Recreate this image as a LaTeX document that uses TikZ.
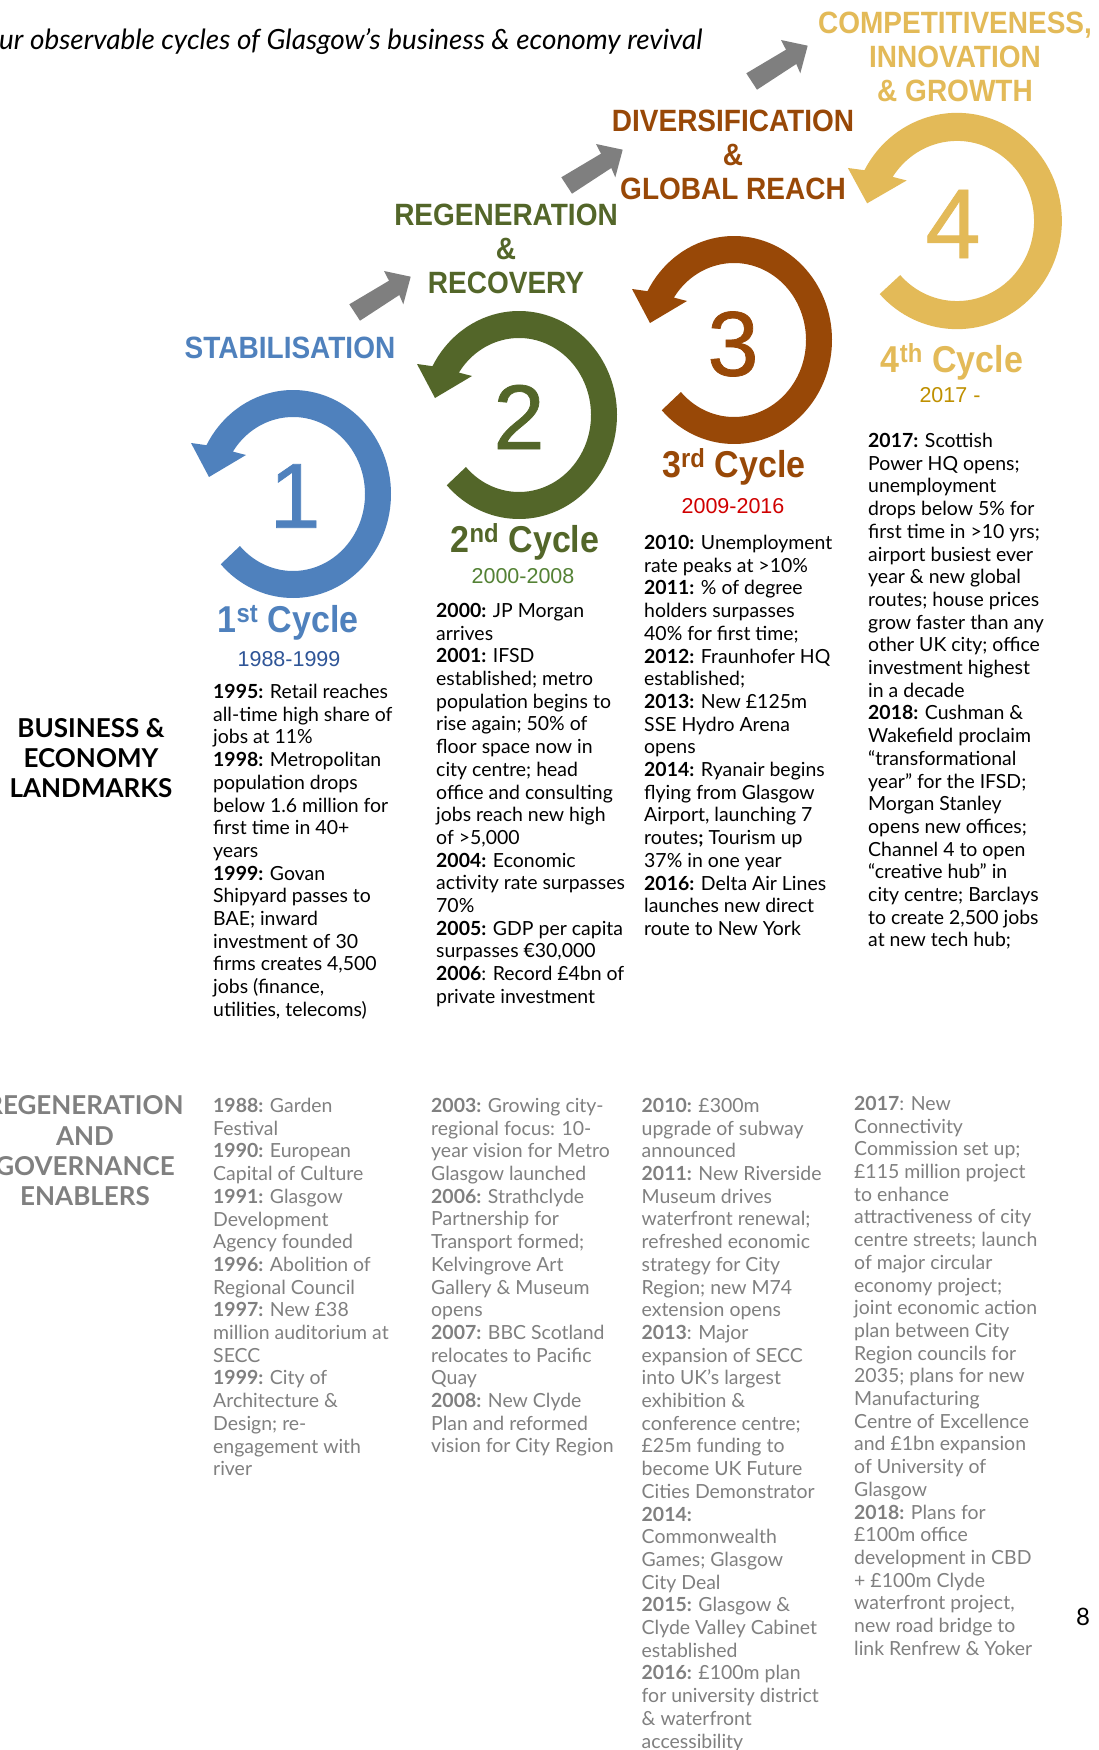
\documentclass[tikz,border=0pt]{standalone}
\usepackage{fontspec}
\setmainfont{Lato}
\newfontfamily\helv{Liberation Sans}
\newfontfamily\helvnum[FakeBold=0.8]{Liberation Sans}
\definecolor{cblue}{HTML}{4F81BD}
\definecolor{cgreen}{HTML}{536629}
\definecolor{cbrown}{HTML}{984807}
\definecolor{cgold}{HTML}{E3BA58}
\definecolor{ygreen}{HTML}{548235}
\definecolor{yblue}{HTML}{2F5597}
\definecolor{yred}{HTML}{D00000}
\definecolor{ygold}{HTML}{BF9000}
\definecolor{arrowgrey}{HTML}{7F7F7F}
\definecolor{bodygrey}{HTML}{808080}
\tikzset{
  heading/.style={font=\helv\bfseries\fontsize{28}{31}\selectfont,align=center,inner sep=0,yscale=1.1,transform shape},
  cyclelabel/.style={font=\helv\bfseries\fontsize{34}{40}\selectfont,inner sep=0,yscale=1.1,transform shape},
  yearlabel/.style={font=\helv\fontsize{21.5}{26}\selectfont,inner sep=0},
  numeral/.style={font=\helvnum\fontsize{92}{100}\selectfont,inner sep=0},
  bodytext/.style={font=\fontsize{19.45}{22.7}\selectfont,align=left,anchor=north west,inner sep=0,text=black},
  greytext/.style={bodytext,text=bodygrey},
  sidelabel/.style={font=\bfseries\fontsize{26}{30.3}\selectfont,align=center,inner sep=0},
}
\newcommand{\yr}[1]{\textbf{#1}}
\newcommand{\cyclering}[5]{%
  \begin{scope}[shift={(#1,-#2)},xscale=#3,yscale=#4]
    \fill[#5] (-137.5:98 and 104) arc[start angle=-137.5,end angle=152,x radius=98,y radius=104]
      -- (-102,51) -- (-84,17) -- (-47,39) -- (146.6:72 and 77)
      arc[start angle=146.6,end angle=-137.5,x radius=72,y radius=77] -- cycle;
  \end{scope}}
\newcommand{\stepblock}[2]{%
  \fill[arrowgrey,shift={(#1,#2)}] (349.3,-304.3) -- (389,-280.7) -- (384,-271) -- (410.7,-276.7)
    -- (403.3,-304.3) -- (399.3,-295) -- (360,-320.7) -- cycle;}
\begin{document}
\begin{tikzpicture}[x=1pt,y=1pt]
\useasboundingbox (0,0) rectangle (1099,-1750);
\clip (0,0) rectangle (1099,-1750);
\fill[white] (0,0) rectangle (1099,-1750);

\node[font=\itshape\fontsize{27.9}{32}\selectfont,anchor=west,inner sep=0] (title) at (-1,-42)
  {ur observable cycles of Glasgow’s business \& economy revival};

\cyclering{293}{494}{1}{1}{cblue}
\cyclering{519}{415}{1}{1}{cgreen}
\cyclering{734}{340}{1}{1}{cbrown}
\cyclering{957}{221}{1.07}{1.04}{cgold}

\stepblock{0}{0}
\stepblock{212}{127}
\stepblock{397}{231}

\node[numeral,text=cblue] (n1) at (295,-496) {1};
\node[numeral,text=cgreen] (n2) at (519,-417) {2};
\node[numeral,text=cbrown] (n3) at (733,-344) {3};
\node[numeral,text=cgold,font=\helvnum\fontsize{99}{100}\selectfont] (n4) at (953,-224) {4};

\node[heading,text=cblue] (h1) at (290,-348) {STABILISATION};
\node[heading,text=cgreen] (h2) at (506,-249) {REGENERATION\\\&\\RECOVERY};
\node[heading,text=cbrown] (h3) at (733,-155) {DIVERSIFICATION\\\&\\GLOBAL REACH};
\node[heading,text=cgold] (h4) at (955,-57) {COMPETITIVENESS,\\INNOVATION\\\& GROWTH};

\node[cyclelabel,text=cblue] (c1) at (288,-622.5) {1\textsuperscript{st} Cycle};
\node[cyclelabel,text=cgreen] (c2) at (525,-541.5) {2\textsuperscript{nd} Cycle};
\node[cyclelabel,text=cbrown] (c3) at (734,-467) {3\textsuperscript{rd} Cycle};
\node[cyclelabel,text=cgold] (c4) at (952,-361.5) {4\textsuperscript{th} Cycle};

\node[yearlabel,text=yblue] (y1) at (289,-659) {1988-1999};
\node[yearlabel,text=ygreen] (y2) at (523,-576) {2000-2008};
\node[yearlabel,text=yred] (y3) at (733,-506) {2009-2016};
\node[yearlabel,text=ygold] (y4) at (950,-395) {2017 -};

\node[sidelabel] (s1) at (91,-758) {BUSINESS \&\\ECONOMY\\LANDMARKS};
\node[sidelabel,text=bodygrey] (s2) at (85,-1151) {REGENERATION\\AND\\GOVERNANCE\\ENABLERS};

\node[bodytext] (b1) at (213,-684) {\yr{1995:} Retail reaches\\all-time high share of\\jobs at 11\%\\\yr{1998:} Metropolitan\\population drops\\below 1.6 million for\\first time in 40+\\years\\\yr{1999:} Govan\\Shipyard passes to\\BAE; inward\\investment of 30\\firms creates 4,500\\jobs (finance,\\utilities, telecoms)};
\node[bodytext] (b2) at (436,-603) {\yr{2000:} JP Morgan\\arrives\\\yr{2001:} IFSD\\established; metro\\population begins to\\rise again; 50\% of\\floor space now in\\city centre; head\\office and consulting\\jobs reach new high\\of >5,000\\\yr{2004:} Economic\\activity rate surpasses\\70\%\\\yr{2005:} GDP per capita\\surpasses €30,000\\\yr{2006}: Record £4bn of\\private investment};
\node[bodytext] (b3) at (644,-535) {\yr{2010:} Unemployment\\rate peaks at >10\%\\\yr{2011:} \% of degree\\holders surpasses\\40\% for first time;\\\yr{2012:} Fraunhofer HQ\\established;\\\yr{2013:} New £125m\\SSE Hydro Arena\\opens\\\yr{2014:} Ryanair begins\\flying from Glasgow\\Airport, launching 7\\routes\textbf{;} Tourism up\\37\% in one year\\\yr{2016:} Delta Air Lines\\launches new direct\\route to New York};
\node[bodytext] (b4) at (868,-433) {\yr{2017:} Scottish\\Power HQ opens;\\unemployment\\drops below 5\% for\\first time in >10 yrs;\\airport busiest ever\\year \& new global\\routes; house prices\\grow faster than any\\other UK city; office\\investment highest\\in a decade\\\yr{2018:} Cushman \&\\Wakefield proclaim\\“transformational\\year” for the IFSD;\\Morgan Stanley\\opens new offices;\\Channel 4 to open\\“creative hub” in\\city centre; Barclays\\to create 2,500 jobs\\at new tech hub;};

\node[greytext] (g1) at (213,-1098) {\yr{1988:} Garden\\Festival\\\yr{1990:} European\\Capital of Culture\\\yr{1991:} Glasgow\\Development\\Agency founded\\\yr{1996:} Abolition of\\Regional Council\\\yr{1997:} New £38\\million auditorium at\\SECC\\\yr{1999:} City of\\Architecture \&\\Design; re-\\engagement with\\river};
\node[greytext] (g2) at (431,-1098) {\yr{2003:} Growing city-\\regional focus: 10-\\year vision for Metro\\Glasgow launched\\\yr{2006:} Strathclyde\\Partnership for\\Transport formed;\\Kelvingrove Art\\Gallery \& Museum\\opens\\\yr{2007:} BBC Scotland\\relocates to Pacific\\Quay\\\yr{2008:} New Clyde\\Plan and reformed\\vision for City Region};
\node[greytext] (g3) at (641.5,-1098) {\yr{2010:} £300m\\upgrade of subway\\announced\\\yr{2011:} New Riverside\\Museum drives\\waterfront renewal;\\refreshed economic\\strategy for City\\Region; new M74\\extension opens\\\yr{2013}: Major\\expansion of SECC\\into UK’s largest\\exhibition \&\\conference centre;\\£25m funding to\\become UK Future\\Cities Demonstrator\\\yr{2014:}\\Commonwealth\\Games; Glasgow\\City Deal\\\yr{2015:} Glasgow \&\\Clyde Valley Cabinet\\established\\\yr{2016:} £100m plan\\for university district\\\& waterfront\\accessibility};
\node[greytext] (g4) at (854,-1096) {\yr{2017}: New\\Connectivity\\Commission set up;\\£115 million project\\to enhance\\attractiveness of city\\centre streets; launch\\of major circular\\economy project;\\joint economic action\\plan between City\\Region councils for\\2035; plans for new\\Manufacturing\\Centre of Excellence\\and £1bn expansion\\of University of\\Glasgow\\\yr{2018:} Plans for\\£100m office\\development in CBD\\+ £100m Clyde\\waterfront project,\\new road bridge to\\link Renfrew \& Yoker};

\node[font=\fontsize{24}{28}\selectfont,inner sep=0] (page) at (1083,-1617) {8};
\end{tikzpicture}
\end{document}
